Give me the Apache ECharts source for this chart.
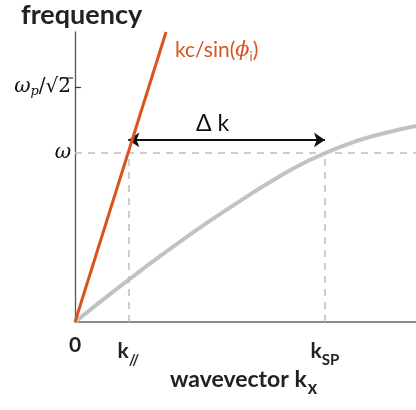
<!DOCTYPE html>
<html><head><meta charset="utf-8">
<script src="https://cdn.jsdelivr.net/npm/echarts@6/dist/echarts.min.js"></script>
<style>html,body{margin:0;padding:0;background:#fff}#c{width:416px;height:410px}</style>
</head><body><div id="c"></div>
<script>
// values (abstract units: x 0..10, y 0..10)
const omega = 5.85;          // ω
const omegaP = 8.10;         // ω_p/√2
const kPar = 1.564;          // k//
const kSP = 7.33;            // k_SP
const lightLineX = [0, 2.67];
const lightLineY = [0, 10];
const spX = [0, 0.98, 1.96, 2.93, 3.91, 4.89, 5.87, 6.84, 7.82, 8.80, 10];
const spY = [0, 0.92, 1.80, 2.64, 3.45, 4.21, 4.93, 5.56, 6.06, 6.43, 6.76];
const arrowY = 6.28;
const xTicks = [0, kPar, kSP];
const xTickLabels = ['{b|0}', '{b|k}{s|//}', '{b|k}{s|SP}'];
const yTicks = [omega, omegaP];
const yTickLabels = ['{w|ω}', '{w|ω}{p|p}{r|/√2}'];

const red = '#d9541e';
const gray = '#c2c2c2';
const dash = '#bdbdbd';
const font = 'Lato, "Open Sans", sans-serif';

const chart = echarts.init(document.getElementById('c'));
chart.setOption({
  animation: false,
  grid: {left: 75, right: 0, top: 32, bottom: 88},
  xAxis: {
    type: 'value', min: 0, max: 10,
    axisLine: {lineStyle: {color: '#666', width: 1.5}},
    axisTick: {show: false},
    splitLine: {show: false},
    axisLabel: {
      customValues: xTicks, margin: 13,
      formatter: v => xTickLabels[xTicks.indexOf(v)],
      rich: {
        b: {fontFamily: font, fontWeight: 'bold', fontSize: 21, color: '#222'},
        s: {fontFamily: font, fontWeight: 'bold', fontSize: 15, color: '#222', padding: [18, 0, 0, 0]}
      }
    }
  },
  yAxis: {
    type: 'value', min: 0, max: 10,
    axisLine: {lineStyle: {color: '#555', width: 1.3}},
    axisTick: {show: true, inside: true, customValues: [omegaP], length: 6, lineStyle: {color: '#333', width: 1.2}},
    splitLine: {show: false},
    axisLabel: {
      customValues: yTicks, margin: 4,
      formatter: v => yTickLabels[yTicks.indexOf(v)],
      rich: {
        w: {fontFamily: '"DejaVu Serif", serif', fontStyle: 'italic', fontSize: 20, color: '#111'},
        p: {fontFamily: '"DejaVu Serif", serif', fontStyle: 'italic', fontSize: 13, color: '#111', padding: [10, 0, 0, 0]},
        r: {fontFamily: '"DejaVu Serif", serif', fontSize: 20, color: '#111'}
      }
    }
  },
  series: [
    {
      type: 'line', data: lightLineX.map((x, i) => [x, lightLineY[i]]),
      symbol: 'none', lineStyle: {color: red, width: 3}, z: 5
    },
    {
      type: 'line', data: spX.map((x, i) => [x, spY[i]]), smooth: 0.5,
      symbol: 'none', lineStyle: {color: gray, width: 4}, z: 3,
      markLine: {
        silent: true, symbol: 'none', label: {show: false},
        lineStyle: {color: dash, type: [7, 6], width: 1.5},
        data: [
          [{coord: [0, omega]}, {coord: [10, omega]}],
          [{coord: [kPar, 0]}, {coord: [kPar, omega]}],
          [{coord: [kSP, 0]}, {coord: [kSP, omega]}]
        ]
      }
    },
    {
      type: 'line', data: [], symbol: 'none',
      markLine: {
        silent: true, symbol: ['arrow', 'arrow'], symbolSize: [11, 11],
        label: {show: false},
        lineStyle: {color: '#111', type: 'solid', width: 2},
        data: [[{coord: [kPar, arrowY]}, {coord: [kSP, arrowY]}]]
      }
    }
  ],
  graphic: [
    {type: 'text', left: 21, top: 2, style: {text: 'frequency', font: 'bold 27px ' + font, fill: '#222'}},
    {type: 'line', shape: {x1: 60, y1: 78, x2: 73, y2: 78}, style: {stroke: '#111', lineWidth: 1}},
    {type: 'text', left: 170, top: 368, style: {
      text: '{a|wavevector k}{s|x}',
      rich: {
        a: {font: 'bold 23px ' + font, fill: '#222'},
        s: {font: 'bold 18px ' + font, fill: '#222', padding: [18, 0, 0, 1]}
      }}},
    {type: 'text', left: 175, top: 40, style: {
      text: '{a|kc/sin(}{f|ϕ}{s|i}{a|)}',
      rich: {
        a: {font: '21px ' + font, fill: red},
        f: {font: 'italic 21px "DejaVu Serif", serif', fill: red},
        s: {font: '13px ' + font, fill: red, padding: [12, 0, 0, 0]}
      }}},
    {type: 'text', left: 196, top: 112, style: {text: 'Δ k', font: '23px ' + font, fill: '#111'}}
  ]
});
</script></body></html>
